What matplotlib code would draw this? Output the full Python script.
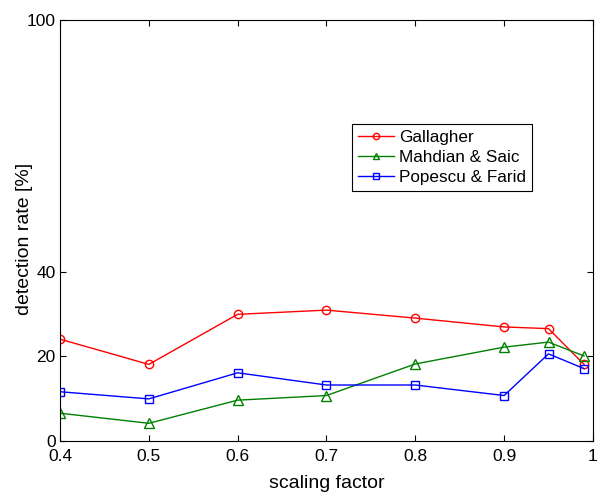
import numpy as np
import matplotlib.pyplot as plt

plt.rcParams['font.family'] = ['Liberation Sans', 'DejaVu Sans']

scale = [0.4, 0.5, 0.6, 0.7, 0.8, 0.9, 0.95, 0.99]
gallagher = [24.1, 18.1, 30.0, 31.0, 29.1, 27.0, 26.6, 18.1]
mahdian = [6.5, 4.1, 9.6, 10.7, 18.2, 22.2, 23.4, 20.1]
popescu = [11.6, 9.9, 16.1, 13.2, 13.2, 10.7, 20.6, 17.1]

xticks = [0.4, 0.5, 0.6, 0.7, 0.8, 0.9, 1]
xticklabels = ['0.4', '0.5', '0.6', '0.7', '0.8', '0.9', '1']
yticks = [0, 20, 40, 100]

fig = plt.figure(figsize=(6.07, 4.95), dpi=100)
ax = fig.add_axes([0.0988, 0.110, 0.878, 0.850])

ax.plot(scale, gallagher, '-o', color=(1, 0, 0), lw=1, ms=6, mfc='none', mew=1, label='Gallagher')
ax.plot(scale, mahdian, '-^', color=(0, 0.5, 0), lw=1, ms=6.5, mfc='none', mew=1, label='Mahdian & Saic')
ax.plot(scale, popescu, '-s', color=(0, 0, 1), lw=1, ms=6, mfc='none', mew=1, label='Popescu & Farid')

ax.set_xlim(0.4, 1)
ax.set_ylim(0, 100)
ax.set_xticks(xticks)
ax.set_xticklabels(xticklabels)
ax.set_yticks(yticks)
ax.tick_params(direction='in', top=True, right=True, labelsize=12.5, length=4, width=0.8)
ax.tick_params(axis='x', pad=6)
ax.tick_params(axis='y', pad=3)
for s in ax.spines.values():
    s.set_linewidth(0.8)

ax.set_xlabel('scaling factor', fontsize=14, labelpad=8)
ax.set_ylabel('detection rate [%]', fontsize=14)
ax.yaxis.set_label_coords(-0.051, 0.48)

leg = ax.legend(loc='upper left', bbox_to_anchor=(0.548, 0.752), fontsize=12.3,
                fancybox=False, edgecolor='black', framealpha=1, handlelength=2.1,
                borderpad=0.35, labelspacing=0.3, handletextpad=0.3, borderaxespad=0,
                markerscale=0.75)
leg.get_frame().set_linewidth(0.8)

fig.savefig('out.png', dpi=100)
